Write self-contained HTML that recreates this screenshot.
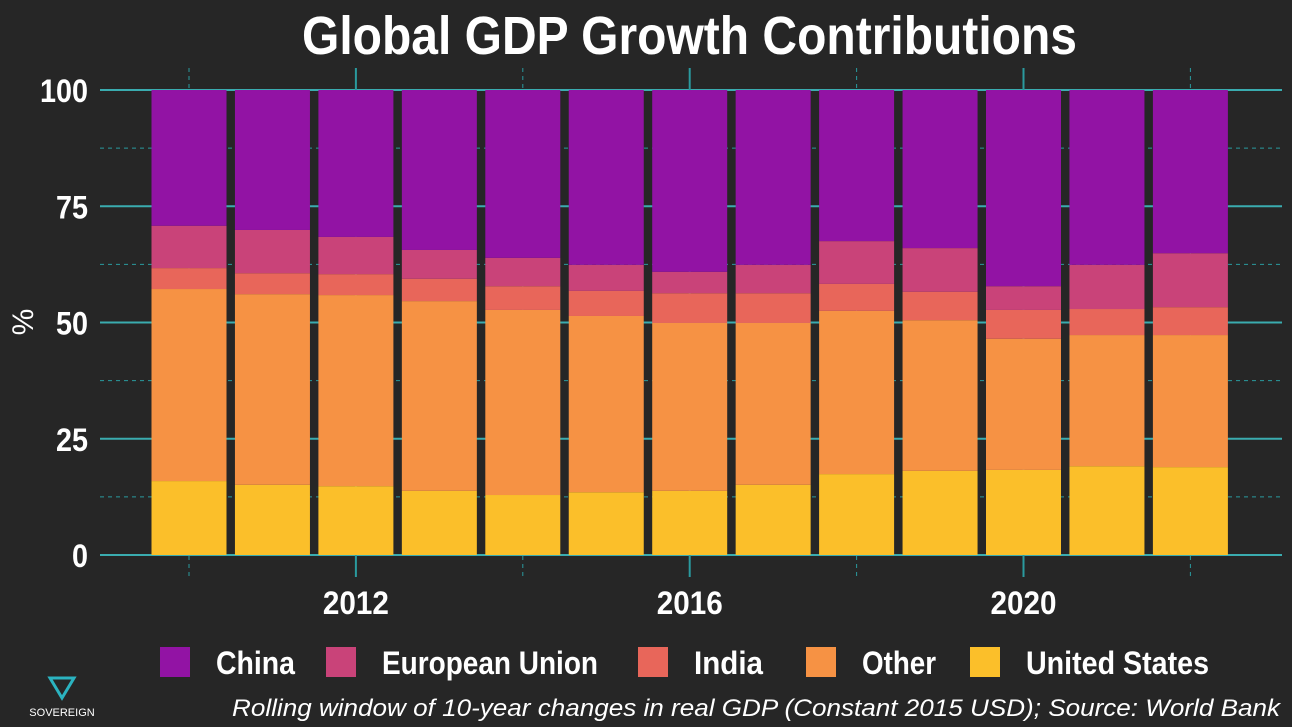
<!DOCTYPE html>
<html><head><meta charset="utf-8"><style>
body{margin:0;background:#262626;}
svg{display:block}
.t{font-family:"Liberation Sans",sans-serif;font-weight:bold;fill:#fff}
</style></head><body>
<svg id="c" width="1292" height="727" viewBox="0 0 1292 727">
<rect width="1292" height="727" fill="#262626"/>
<text class="t" x="302" y="54" font-size="54" textLength="775" lengthAdjust="spacingAndGlyphs">Global GDP Growth Contributions</text>
<text class="t" x="33" y="322" font-size="30" text-anchor="middle" transform="rotate(-90 33 322)" style="font-weight:normal">%</text>
<g id="grid"></g><g id="bars"></g><g id="axes"></g><g id="legend"></g>
<text x="232" y="716" font-family="Liberation Sans,sans-serif" font-style="italic" font-size="24" fill="#fff" textLength="1048" lengthAdjust="spacingAndGlyphs">Rolling window of 10-year changes in real GDP (Constant 2015 USD); Source: World Bank</text>
<g>
<polygon points="50,678 74,678 62,698" fill="none" stroke="#2bb3c0" stroke-width="3"/>
<text x="62" y="716" font-family="Liberation Sans,sans-serif" font-size="11" fill="#fff" text-anchor="middle">SOVEREIGN</text>
</g>
</svg>
<script>
const years=[2010,2011,2012,2013,2014,2015,2016,2017,2018,2019,2020,2021,2022];
const usVals=[15.9,15.1,14.8,13.8,12.9,13.5,13.8,15.1,17.4,18.1,18.3,19.1,18.9];
const otherVals=[41.3,41.0,41.1,40.8,39.8,37.9,36.1,34.8,35.1,32.4,28.2,28.2,28.4];
const indiaVals=[4.5,4.5,4.5,4.8,5.1,5.4,6.4,6.4,5.8,6.1,6.2,5.6,6.0];
const euVals=[9.1,9.3,8.0,6.2,6.1,5.6,4.6,6.1,9.2,9.4,5.1,9.5,11.6];
const chinaVals=[29.2,30.1,31.6,34.4,36.1,37.6,39.1,37.6,32.5,34.0,42.2,37.6,35.1];
const series=[["United States",usVals,"#fbbf2a"],["Other",otherVals,"#f69244"],["India",indiaVals,"#e8665a"],["European Union",euVals,"#c94379"],["China",chinaVals,"#9213a4"]];
const yTicks=[0,25,50,75,100];
const xTicks=[2012,2016,2020];
const NS="http://www.w3.org/2000/svg";
const X=y=>189+(y-2010)*83.45;
const Y=v=>555-v*4.65;
function mk(t,a,p){const e=document.createElementNS(NS,t);for(const k in a)e.setAttribute(k,a[k]);p.appendChild(e);return e;}
const grid=document.getElementById('grid'),bars=document.getElementById('bars'),axes=document.getElementById('axes'),leg=document.getElementById('legend');
for(let v=12.5;v<100;v+=25){const l=mk('line',{x1:100,x2:1282,y1:Y(v),y2:Y(v),stroke:'#2a9a9e','stroke-width':1,'stroke-dasharray':'4,4'},grid);

}
yTicks.forEach(v=>{const l=mk('line',{x1:100,x2:1282,y1:Y(v),y2:Y(v),stroke:'#3aacaf','stroke-width':2},grid);


const w=String(v).length*16;
const t=mk('text',{x:88-w,y:Y(v)+12,'font-size':32,textLength:w,lengthAdjust:'spacingAndGlyphs',class:'t'},axes);t.textContent=v;

});
years.forEach(y=>{const major=xTicks.includes(y);if(!major&&(y-2010)%2)return;
const l=mk('line',{x1:X(y),x2:X(y),y1:68,y2:577,stroke:'#2a9a9e','stroke-width':major?2:1,'stroke-dasharray':major?'':'4,4'},grid);

});
xTicks.forEach(y=>{const t=mk('text',{x:X(y)-33,y:614,'font-size':32,textLength:66,lengthAdjust:'spacingAndGlyphs',class:'t'},axes);t.textContent=y;

});
years.forEach((y,i)=>{let cum=0;series.forEach(s=>{const v=s[1][i];
const r=mk('rect',{x:X(y)-37.5,width:75,y:Y(cum+v),height:v*4.65,fill:s[2]},bars);


cum+=v;});});
const lx=[160,326,638,806,970];
const lw=[79,216,69,74,183];
["China","European Union","India","Other","United States"].forEach((n,i)=>{const s=series.find(q=>q[0]==n);
const g=mk('g',{},leg);


mk('rect',{x:lx[i],y:647,width:30,height:30,fill:s[2]},g);
const t=mk('text',{x:lx[i]+56,y:674,'font-size':32,textLength:lw[i],lengthAdjust:'spacingAndGlyphs',class:'t'},g);t.textContent=n;});
</script>
</body></html>
